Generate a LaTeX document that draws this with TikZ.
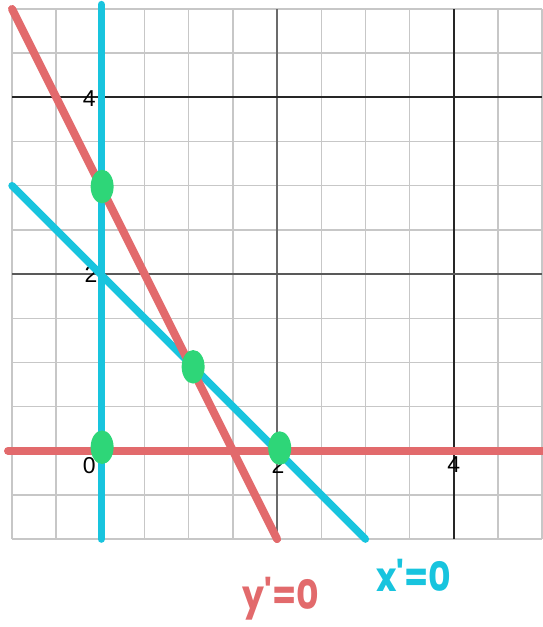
\documentclass[tikz,border=0pt]{standalone}
\usepackage{fontspec}
\setmainfont{Liberation Sans}
\newfontfamily\handfont{Poppins}
\definecolor{myred}{RGB}{226,106,108}
\definecolor{myblue}{RGB}{24,196,222}
\definecolor{mygreen}{RGB}{46,214,120}
\tikzset{
  minorgrid/.style={draw=black!22, line width=0.45pt},
  majorgrid/.style={draw=black!85, line width=0.55pt},
  redline/.style={draw=myred, line width=2.6pt, line cap=round},
  blueline/.style={draw=myblue, line width=2.4pt, line cap=round},
  greendot/.style={fill=mygreen, draw=none, ellipse, minimum width=0.26cm, minimum height=0.38cm, inner sep=0pt},
  ticklabel/.style={font=\fontsize{7.4}{8}\selectfont, inner sep=0pt, text=black},
  handlabel/.style={font=\handfont\bfseries\fontsize{13}{14}\selectfont, inner sep=0pt, anchor=base, xscale=0.86}
}
\usetikzlibrary{shapes.geometric}
\begin{document}
\begin{tikzpicture}
\useasboundingbox (-1.136,-1.995) rectangle (5,5.102);
% grid
\foreach \v in {-1,-0.5,...,5} {
  \draw[minorgrid] (\v,-1) -- (\v,5);
  \draw[minorgrid] (-1,\v) -- (5,\v);
}
\draw[majorgrid] (4,-1) -- (4,5);
\draw[majorgrid, draw=black!58] (2,-1) -- (2,5);
\draw[majorgrid, draw=black!65] (-1,2) -- (5,2);
\draw[majorgrid] (-1,4) -- (5,4);
% tick labels
\node[ticklabel] (ly4) at (-0.125,3.99) {4};
\node[ticklabel] (ly2) at (-0.105,1.99) {2};
\node[ticklabel] (lx0) at (-0.125,-0.165) {0};
\node[ticklabel] (lx2) at (2.01,-0.17) {2};
\node[ticklabel] (lx4) at (4.0,-0.16) {4};
% lines
\coordinate (rh1) at (-1.045,0);
\coordinate (rh2) at (5.2,0);
\coordinate (rd1) at (-1,5);
\coordinate (rd2) at (2,-1);
\coordinate (bv1) at (0.01,5.05);
\coordinate (bv2) at (0.01,-1);
\coordinate (bd1) at (-1,3);
\coordinate (bd2) at (3,-1);
\draw[redline] (rh1) -- (rh2);
\draw[blueline] (bv1) -- (bv2);
\draw[blueline] (bd1) -- (bd2);
\draw[redline] (rd1) -- (rd2);
% dots
\node[greendot] (d1) at (0.02,2.99) {};
\node[greendot] (d2) at (1.05,0.95) {};
\node[greendot] (d3) at (0.02,0.04) {};
\node[greendot] (d4) at (2.03,0.03) {};
% hand labels
\node[handlabel, text=myred] (ly) at (2.04,-1.80) {y'=0};
\node[handlabel, text=myblue] (lxx) at (3.55,-1.59) {x'=0};
\end{tikzpicture}
\end{document}
